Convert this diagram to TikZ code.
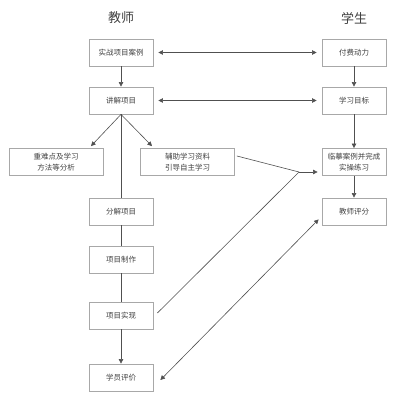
\documentclass[tikz,border=0pt]{standalone}
\usepackage{fontspec}
\setmainfont{Noto Sans CJK SC}
\usetikzlibrary{arrows.meta,calc}
\definecolor{boxline}{HTML}{A8A8A8}
\definecolor{txt}{HTML}{404040}
\definecolor{conn}{HTML}{505050}
\begin{document}
\begin{tikzpicture}[x=1pt,y=-1pt,
  box/.style={draw=boxline,line width=0.8pt,minimum width=64pt,minimum height=27pt,inner sep=1pt,
    font=\fontsize{7.5}{10.5}\selectfont,text=txt,align=center},
  widebox/.style={box,minimum width=94pt},
  title/.style={font=\fontsize{13}{15}\selectfont,text=txt},
  conn/.style={draw=conn,line width=0.6pt},
  arr/.style={conn,-{Triangle[length=4.5pt,width=4.5pt]}},
  darr/.style={conn,{Triangle[length=4.5pt,width=4.5pt]}-{Triangle[length=4.5pt,width=4.5pt]}}]
\useasboundingbox (0,0) rectangle (400,403);
\node[title] (t1) at (121,18) {教师};
\node[title] (t2) at (354,18) {学生};
\node[box] (a1) at (121,52.5) {实战项目案例};
\node[box] (a2) at (121,100.5) {讲解项目};
\node[widebox] (c1) at (56,162) {重难点及学习\\方法等分析};
\node[widebox] (c2) at (187.5,162) {辅助学习资料\\引导自主学习};
\node[box] (a3) at (121,211.5) {分解项目};
\node[box] (a4) at (121,259.5) {项目制作};
\node[box] (a5) at (121,315.5) {项目实现};
\node[box] (a6) at (121,377.5) {学员评价};
\node[box] (b1) at (354,52.5) {付费动力};
\node[box] (b2) at (354,100.5) {学习目标};
\node[box] (b3) at (354,162) {临摹案例并完成\\实操练习};
\node[box] (b4) at (354,211.5) {教师评分};
\coordinate (m) at (299,172);
\draw[arr] (a1) -- (a2);
\draw[darr,shorten <=5pt,shorten >=5pt] (a1) -- (b1);
\draw[darr,shorten <=5pt,shorten >=5pt] (a2) -- (b2);
\draw[arr] (b1) -- (b2);
\draw[arr] (b2) -- (b3);
\draw[arr] (b3) -- (b4);
\draw[arr] (a2.south) -- ($(c1.north)+(35,-2)$);
\draw[arr] (a2.south) -- ($(c2.north)+(-35.5,-2)$);
\draw[conn] (a2) -- (a3);
\draw[conn] (a3) -- (a4);
\draw[conn] (a4) -- (a5);
\draw[arr] (a5) -- (a6);
\draw[conn] ($(c2.east)+(2,-6)$) -- (m);
\draw[conn] ($(a5.east)+(4,-2.5)$) -- (m);
\draw[arr,shorten >=4pt] (m) -- (m -| b3.west);
\draw[darr] ($(a6.east)+(7,2.5)$) -- ($(b4.south west)+(-3,-6)$);
\end{tikzpicture}
\end{document}
